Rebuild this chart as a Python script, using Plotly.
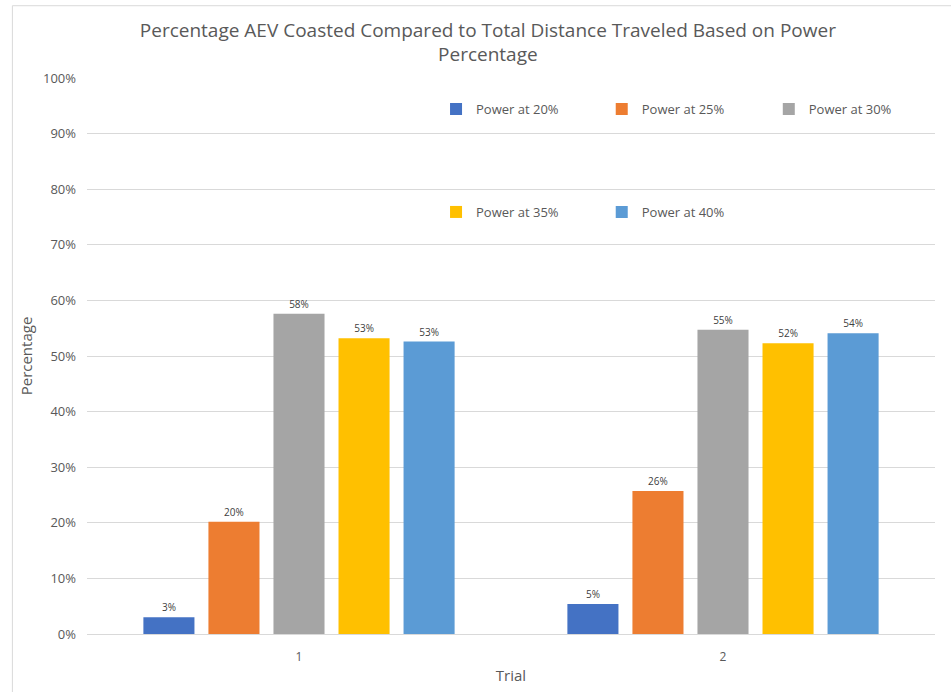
import plotly.graph_objects as go

# Coasting share of total distance, by trial and power setting
trials = ["1", "2"]
series_names = ["Power at 20%", "Power at 25%", "Power at 30%", "Power at 35%", "Power at 40%"]
power_20 = [0.030, 0.054]
power_25 = [0.202, 0.257]
power_30 = [0.576, 0.547]
power_35 = [0.532, 0.523]
power_40 = [0.526, 0.541]
colors = ["#4472C4", "#ED7D31", "#A5A5A5", "#FFC000", "#5B9BD5"]

series_values = [power_20, power_25, power_30, power_35, power_40]
legend_ids = ["legend", "legend2", "legend3", "legend4", "legend5"]
# legend entry anchor points (plot-area fractions): three on the top row, two below
legend_x = [0.4116, 0.607, 0.804, 0.4116, 0.607]
legend_y = [0.944, 0.944, 0.944, 0.759, 0.759]

FONT = "Open Sans"
GREY = "#595959"

fig = go.Figure()
for name, vals, col, lg in zip(series_names, series_values, colors, legend_ids):
    fig.add_trace(go.Bar(
        x=trials, y=vals, name=name,
        marker=dict(color=col, line=dict(width=0)),
        text=vals, texttemplate="%{y:.0%}", textposition="outside",
        textfont=dict(family=FONT, size=10, color="#404040"),
        cliponaxis=False,
        legend=lg,
    ))

legends = {}
for lg, lx, ly in zip(legend_ids, legend_x, legend_y):
    legends[lg] = dict(
        x=lx, y=ly, xref="paper", yref="paper",
        xanchor="left", yanchor="middle",
        itemwidth=30, bgcolor="rgba(0,0,0,0)",
        font=dict(family=FONT, size=13, color=GREY),
    )

fig.update_layout(
    width=951, height=692,
    margin=dict(l=87, r=16, t=78, b=58, autoexpand=False),
    paper_bgcolor="white", plot_bgcolor="white",
    title=dict(
        text="Percentage AEV Coasted Compared to Total Distance Traveled Based on Power<br>Percentage",
        x=0.513, xanchor="center", y=0.947, yanchor="middle",
        font=dict(family=FONT, size=19, color=GREY),
    ),
    barmode="group", bargap=0.233, bargroupgap=0.215,
    showlegend=True,
    xaxis=dict(
        title=dict(text="Trial", font=dict(family=FONT, size=15, color=GREY), standoff=6),
        tickfont=dict(family=FONT, size=12, color=GREY),
        showline=True, linecolor="#D9D9D9", linewidth=1,
        ticks="", showgrid=False, ticklabelstandoff=12,
    ),
    yaxis=dict(
        title=dict(text="Percentage", font=dict(family=FONT, size=15, color=GREY), standoff=6),
        range=[0, 1], dtick=0.1, tickformat=".0%",
        tickfont=dict(family=FONT, size=13, color=GREY),
        showgrid=True, gridcolor="#D9D9D9", gridwidth=1,
        zeroline=False, ticks="", ticklabelstandoff=10,
    ),
    shapes=[dict(
        type="rect", xref="paper", yref="paper",
        x0=-0.088, x1=1.03, y0=-0.2, y1=1.13,
        line=dict(color="#D9D9D9", width=1), fillcolor="rgba(0,0,0,0)", layer="below",
    )],
    **legends,
)

fig.write_html("out.html")
